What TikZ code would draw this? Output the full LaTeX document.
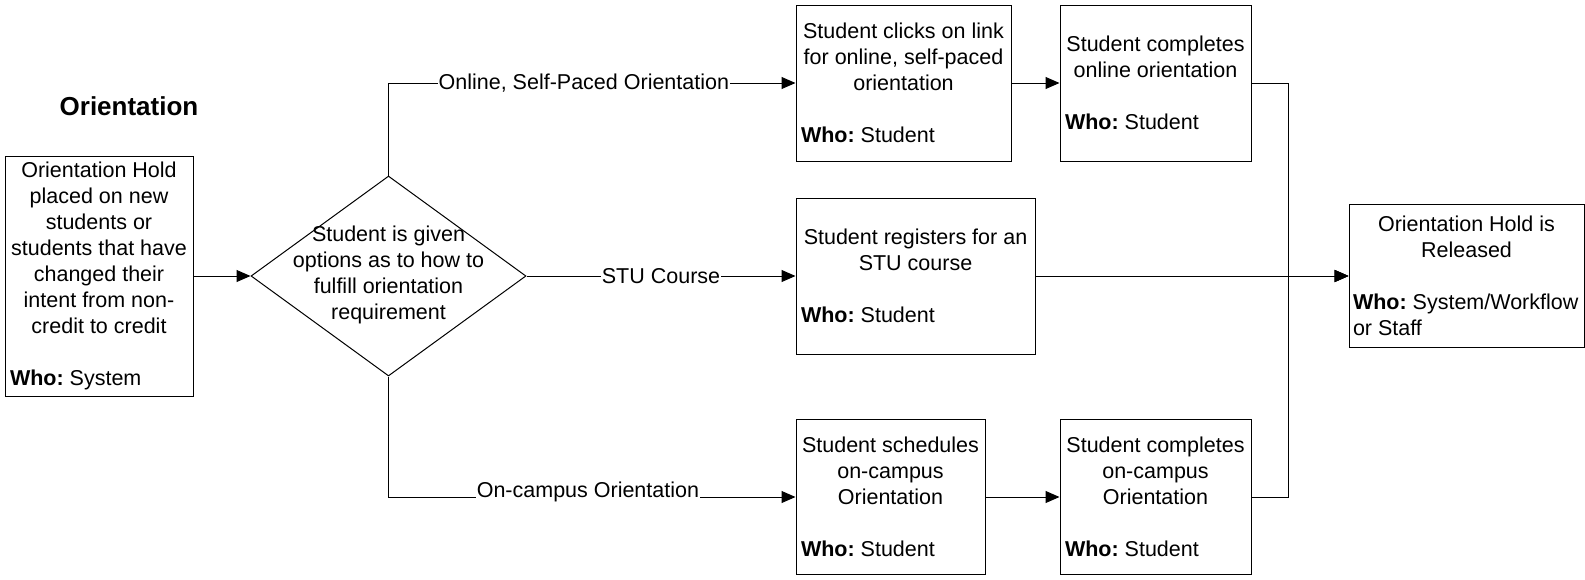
\documentclass[tikz,border=0pt]{standalone}
\usepackage{fontspec}
\setmainfont{Liberation Sans}
\usetikzlibrary{shapes.geometric,arrows.meta}
\frenchspacing
\newcommand\whobox[3]{\parbox{#1}{{\centering #2\par}\vspace{26pt}\raggedright\textbf{Who:}\ #3\par}}
\begin{document}
\begin{tikzpicture}[x=1pt,y=-1pt,
  every node/.style={font=\fontsize{21.5pt}{26pt}\selectfont},
  box/.style={draw, line width=1pt, rectangle, inner sep=0pt},
  arr/.style={line width=1pt, -{Triangle[length=14pt,width=12pt]}},
  lbl/.style={fill=white, inner sep=1pt}]
\useasboundingbox (0,0) rectangle (1585,579);

\node[font=\fontsize{26pt}{30pt}\selectfont\bfseries] (title) at (129,106) {Orientation};

\node[box, minimum width=188pt, minimum height=240pt] (hold) at (99,276)
  {\whobox{178pt}{Orientation Hold\\placed on new\\students or\\students that have\\changed their\\intent from non-\\credit to credit}{System}};

\node[diamond, draw, line width=1pt, minimum width=275pt, minimum height=200pt, inner sep=0pt, aspect=1.375] (dec) at (388.5,276) {};
\node[align=center] (dectxt) at (388.5,275) {Student is given\\options as to how to\\fulfill orientation\\requirement};

\node[box, minimum width=215pt, minimum height=156pt] (c1) at (903.5,83)
  {\whobox{205pt}{Student clicks on link\\for online, self-paced\\orientation}{Student}};
\node[box, minimum width=191pt, minimum height=156pt] (c2) at (1155.5,83)
  {\whobox{181pt}{Student completes\\online orientation}{Student}};
\node[box, minimum width=239pt, minimum height=156pt] (mid) at (915.5,276)
  {\whobox{229pt}{Student registers for an\\STU course}{Student}};
\node[box, minimum width=235pt, minimum height=143pt] (rel) at (1466.5,276)
  {\whobox{227pt}{Orientation Hold is\\Released}{System/Workflow\\or Staff}};
\node[box, minimum width=189pt, minimum height=155pt] (b1) at (890.5,497)
  {\whobox{179pt}{Student schedules\\on-campus\\Orientation}{Student}};
\node[box, minimum width=191pt, minimum height=155pt] (b2) at (1155.5,497)
  {\whobox{181pt}{Student completes\\on-campus\\Orientation}{Student}};

\draw[arr] (hold.east) -- (dec.west);
\draw[arr] (dec.north) |- node[lbl, pos=0.74] (l1) {Online, Self-Paced Orientation} (c1.west);
\draw[arr] (dec.east) -- node[lbl] (l2) {STU Course} (mid.west);
\draw[arr] (dec.south) |- node[lbl, pos=0.745, anchor=base] (l3) {On-campus Orientation} (b1.west);
\draw[arr] (c1.east) -- (c2.west);
\draw[arr] (b1.east) -- (b2.west);
\draw[arr] (mid.east) -- (rel.west);
\draw[arr] (c2.east) -- ++(37,0) |- (rel.west);
\draw[arr] (b2.east) -- ++(37,0) |- (rel.west);
\end{tikzpicture}
\end{document}
